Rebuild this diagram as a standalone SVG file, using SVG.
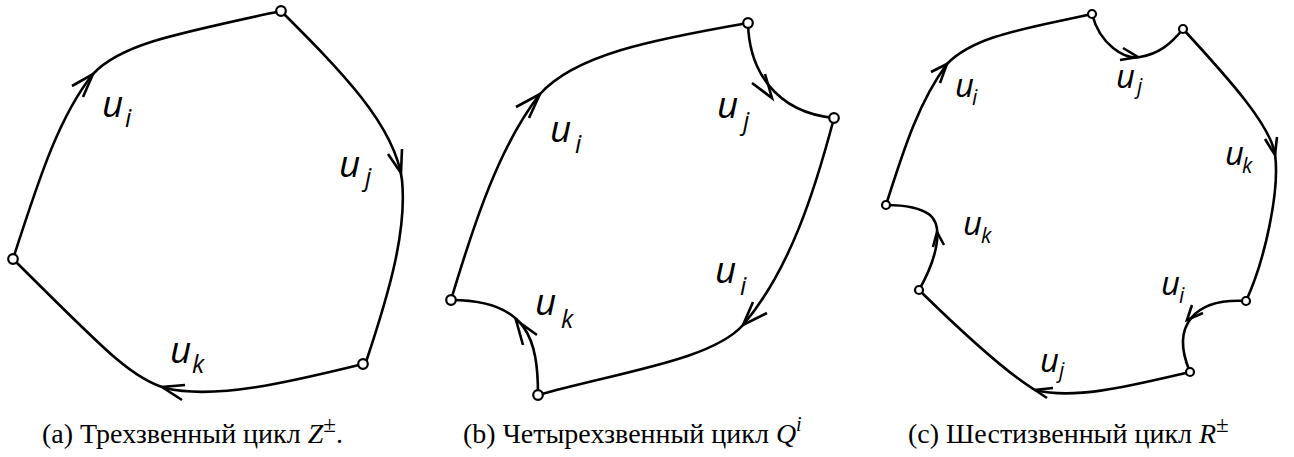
<svg xmlns="http://www.w3.org/2000/svg" width="1294" height="457" viewBox="0 0 1294 457">
<style>
.e{fill:none;stroke:#000;stroke-width:2.6;stroke-linecap:round}
.a{fill:none;stroke:#000;stroke-width:2.6;stroke-linejoin:miter}
.n{fill:#fff;stroke:#000;stroke-width:2.2}
.u{font-family:'Open Sans','DejaVu Sans',sans-serif;font-style:italic;fill:#000}
.ua{font-size:37px}
.sa{font-size:25px}
.uc{font-size:33px}
.sc{font-size:21px}
.cap{font-family:'Liberation Serif','Times New Roman',serif;font-size:28px;fill:#000}
.it{font-style:italic}
</style>
<rect width="1294" height="457" fill="#fff"/>
<g id="connectors">
<!-- panel a -->
<path class="e" d="M13,259 C40,175 60,115 93,74 C120,45 170,35 281,11"/>
<path class="e" d="M281,11 C340,70 395,125 402,180 C407,230 390,290 366,362"/>
<path class="e" d="M363,364 C290,382 215,400 165,388 C130,378 100,345 13,259"/>
<path class="a" d="M72,86 L93,74 L83,97"/>
<path class="a" d="M388,154 L401,173 L402,149"/>
<path class="a" d="M185,385 L162,387 L182,400"/>
<!-- panel b -->
<path class="e" d="M451,300 C475,220 500,145 540,94 C575,55 650,40 748,23"/>
<path class="e" d="M748,23 C749,70 775,112 834,118"/>
<path class="e" d="M834,118 C815,190 790,270 743,325 C712,360 620,372 538,395"/>
<path class="e" d="M538,395 C538,340 528,300 451,300"/>
<path class="a" d="M516,107 L540,94 L529,118"/>
<path class="a" d="M752,83 L772,98 L765,74"/>
<path class="a" d="M767,313 L743,325 L753,302"/>
<path class="a" d="M537,335 L516,320 L523,345"/>
<!-- panel c -->
<path class="e" d="M886,205 C905,145 920,100 947,64 C975,35 1030,28 1092,14"/>
<path class="e" d="M1092,14 C1100,45 1125,60 1140,57 C1158,54 1170,45 1183,29"/>
<path class="e" d="M1183,29 C1230,80 1270,125 1275,154 C1280,190 1265,260 1246,301"/>
<path class="e" d="M1246,301 C1195,298 1170,325 1190,372"/>
<path class="e" d="M1190,372 C1130,386 1075,400 1035,390 C1010,375 965,335 919,290"/>
<path class="e" d="M919,290 C935,262 945,228 930,215 C918,206 900,205 886,205"/>
<path class="a" d="M931,72 L947,64 L940,83"/>
<path class="a" d="M1123,48 L1138,57 L1120,60"/>
<path class="a" d="M1265,139 L1275,155 L1277,137"/>
<path class="a" d="M1203,313 L1187,320 L1192,305"/>
<path class="a" d="M1053,388 L1035,390 L1047,398"/>
<path class="a" d="M933,247 L937,232 L944,245"/>
</g>
<g id="panel-a">
<circle class="n" cx="281" cy="11" r="4.8"/>
<circle class="n" cx="13" cy="259" r="4.8"/>
<circle class="n" cx="363" cy="364" r="4.8"/>
<text class="u ua" x="102" y="117">u</text><text class="u sa" x="125" y="127">i</text>
<text class="u ua" x="339" y="177">u</text><text class="u sa" x="365" y="186">j</text>
<text class="u ua" x="170" y="363">u</text><text class="u sa" x="192" y="373">k</text>
<text class="cap" x="42" y="443">(a) Трехзвенный цикл <tspan class="it">Z</tspan><tspan font-size="23" dy="-11">±</tspan><tspan dy="11">.</tspan></text>
</g>
<g id="panel-b">
<circle class="n" cx="748" cy="23" r="4.8"/>
<circle class="n" cx="834" cy="118" r="4.8"/>
<circle class="n" cx="451" cy="300" r="4.8"/>
<circle class="n" cx="538" cy="395" r="4.8"/>
<text class="u ua" x="550" y="142">u</text><text class="u sa" x="575" y="153">i</text>
<text class="u ua" x="717" y="118">u</text><text class="u sa" x="743" y="130">j</text>
<text class="u ua" x="715" y="283">u</text><text class="u sa" x="740" y="295">i</text>
<text class="u ua" x="535" y="315">u</text><text class="u sa" x="561" y="328">k</text>
<text class="cap" x="463" y="443">(b) Четырехзвенный цикл <tspan class="it">Q</tspan><tspan class="it" font-size="20" dy="-12">i</tspan></text>
</g>
<g id="panel-c">
<circle class="n" cx="1092" cy="14" r="4"/>
<circle class="n" cx="1183" cy="29" r="4"/>
<circle class="n" cx="1246" cy="301" r="4"/>
<circle class="n" cx="1190" cy="372" r="4"/>
<circle class="n" cx="886" cy="205" r="4"/>
<circle class="n" cx="919" cy="290" r="4"/>
<text class="u uc" x="955" y="97">u</text><text class="u sc" x="972" y="105">i</text>
<text class="u uc" x="1116" y="88">u</text><text class="u sc" x="1137" y="94">j</text>
<text class="u uc" x="1225" y="165">u</text><text class="u sc" x="1242" y="173">k</text>
<text class="u uc" x="963" y="235">u</text><text class="u sc" x="981" y="243">k</text>
<text class="u uc" x="1161" y="295">u</text><text class="u sc" x="1179" y="303">i</text>
<text class="u uc" x="1040" y="372">u</text><text class="u sc" x="1059" y="378">j</text>
<text class="cap" x="908" y="443">(c) Шестизвенный цикл <tspan class="it">R</tspan><tspan font-size="23" dy="-11">±</tspan></text>
</g>
</svg>
